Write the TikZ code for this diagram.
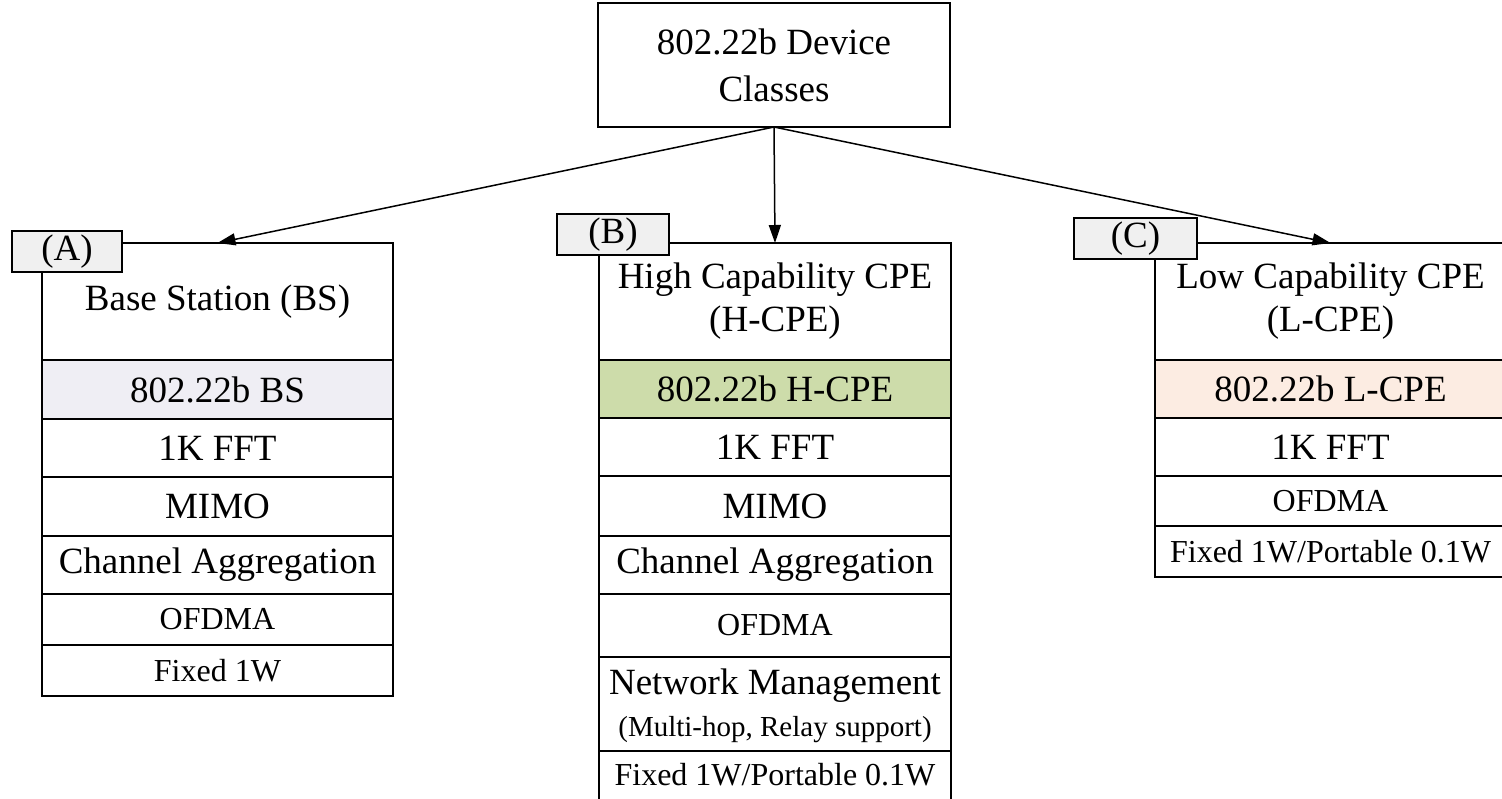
\documentclass[tikz,border=0pt]{standalone}
\usepackage{fontspec}
\setmainfont{Liberation Serif}
\usetikzlibrary{arrows.meta}
\definecolor{bsfill}{RGB}{239,238,244}
\definecolor{hfill}{RGB}{205,220,170}
\definecolor{lfill}{RGB}{252,236,226}
\definecolor{tabfill}{RGB}{240,240,240}
\newcommand\bigf{\fontsize{37}{43}\selectfont}
\newcommand\smf{\fontsize{32}{38}\selectfont}
\newcommand\tinyf{\fontsize{29}{34}\selectfont}
\tikzset{
  cell/.style={draw=black, line width=1.5pt, rectangle, inner sep=0pt, outer sep=0pt,
    anchor=north west, align=center, font=\bigf},
  tabbox/.style={cell, fill=tabfill},
  arr/.style={draw=black, line width=1.5pt, -{Triangle[length=18pt,width=12pt]}},
}
\begin{document}
\begin{tikzpicture}[x=1pt,y=-1pt]
\path[use as bounding box] (0,0) rectangle (1502,798);
\clip (0,0) rectangle (1502,798);
% top box
\node[cell, minimum width=352pt, minimum height=124pt, font={\fontsize{37}{47}\selectfont}] (top) at (598,3) {802.22b Device\\Classes};
% column A
\node[cell, minimum width=351pt, minimum height=117pt] (hA) at (42,243) {Base Station (BS)};
\node[cell, minimum width=351pt, minimum height=59pt, fill=bsfill] (a1) at (42,360) {802.22b BS};
\node[cell, minimum width=351pt, minimum height=58pt] (a2) at (42,419) {1K FFT};
\node[cell, minimum width=351pt, minimum height=59pt] (a3) at (42,477) {MIMO};
\node[cell, minimum width=351pt, minimum height=58pt] (a4) at (42,536) {Channel Aggregation};
\node[cell, minimum width=351pt, minimum height=51pt, font=\smf] (a5) at (42,594) {OFDMA};
\node[cell, minimum width=351pt, minimum height=51pt, font=\smf] (a6) at (42,645) {Fixed 1W};
\node[tabbox, minimum width=110pt, minimum height=41pt] (tA) at (12,231) {(A)};
% column B
\node[cell, minimum width=352pt, minimum height=117pt] (hB) at (599,243) {High Capability CPE\\(H-CPE)};
\node[cell, minimum width=352pt, minimum height=58pt, fill=hfill] (b1) at (599,360) {802.22b H-CPE};
\node[cell, minimum width=352pt, minimum height=58pt] (b2) at (599,418) {1K FFT};
\node[cell, minimum width=352pt, minimum height=60pt] (b3) at (599,476) {MIMO};
\node[cell, minimum width=352pt, minimum height=58pt] (b4) at (599,536) {Channel Aggregation};
\node[cell, minimum width=352pt, minimum height=63pt, font=\smf] (b5) at (599,594) {OFDMA};
\node[cell, minimum width=352pt, minimum height=94pt, text depth=3pt] (b6) at (599,657) {Network Management\\[-1pt]{\tinyf (Multi-hop, Relay support)}};
\node[cell, minimum width=352pt, minimum height=70pt, font=\smf, text depth=24pt] (b7) at (599,751) {Fixed 1W/Portable 0.1W};
\node[tabbox, minimum width=112pt, minimum height=41pt] (tB) at (557,214) {(B)};
% column C
\node[cell, minimum width=351pt, minimum height=117pt] (hC) at (1155,243) {Low Capability CPE\\(L-CPE)};
\node[cell, minimum width=351pt, minimum height=58pt, fill=lfill] (c1) at (1155,360) {802.22b L-CPE};
\node[cell, minimum width=351pt, minimum height=58pt] (c2) at (1155,418) {1K FFT};
\node[cell, minimum width=351pt, minimum height=50pt, font=\smf] (c3) at (1155,476) {OFDMA};
\node[cell, minimum width=351pt, minimum height=51pt, font=\smf] (c4) at (1155,526) {Fixed 1W/Portable 0.1W};
\node[tabbox, minimum width=123pt, minimum height=41pt] (tC) at (1074,218) {(C)};
% arrows
\draw[arr] (top.south) -- (hA.north);
\draw[arr] (top.south) -- (hB.north);
\draw[arr] (top.south) -- (hC.north);
\end{tikzpicture}
\end{document}
